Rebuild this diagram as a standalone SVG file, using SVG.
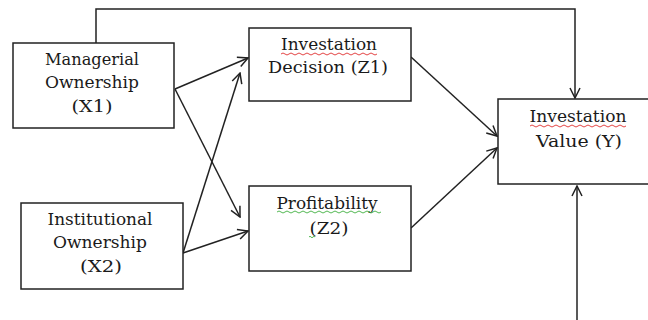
<svg xmlns="http://www.w3.org/2000/svg" width="648" height="320" viewBox="0 0 648 320">
<defs>
<style>
.box{fill:#fff;stroke:#222;stroke-width:1.5}
.t{font-family:'DejaVu Serif','Liberation Serif',serif;font-size:16px;fill:#1a1a1a;text-anchor:middle}
.c{fill:none;stroke:#222;stroke-width:1.5}
.sq{fill:none;stroke-width:0.9}
</style>
<marker id="ah" viewBox="0 0 12 12" refX="11" refY="6" markerWidth="12" markerHeight="12" markerUnits="userSpaceOnUse" orient="auto">
<path d="M1,1 L11,6 L1,11" fill="none" stroke="#222" stroke-width="1.5"/>
</marker>
</defs>
<rect width="648" height="320" fill="#fff"/>
<g id="connectors">
<path class="c" d="M96,43 V9 H575 V98" marker-end="url(#ah)"/>
<path class="c" d="M577,320 V186" marker-end="url(#ah)"/>
<path class="c" d="M175,89 L248,58" marker-end="url(#ah)"/>
<path class="c" d="M175,89 L240,217" marker-end="url(#ah)"/>
<path class="c" d="M183,253 L240,73" marker-end="url(#ah)"/>
<path class="c" d="M183,253 L248,231" marker-end="url(#ah)"/>
<path class="c" d="M411,57 L497,136" marker-end="url(#ah)"/>
<path class="c" d="M411,228 L497,148" marker-end="url(#ah)"/>
</g>
<g id="x1">
<rect class="box" x="13" y="43" width="161" height="85"/>
<text class="t" x="92" y="65" textLength="94" lengthAdjust="spacingAndGlyphs">Managerial</text>
<text class="t" x="92" y="88" textLength="94" lengthAdjust="spacingAndGlyphs">Ownership</text>
<text class="t" x="92" y="112" textLength="41" lengthAdjust="spacingAndGlyphs">(X1)</text>
</g>
<g id="x2">
<rect class="box" x="21" y="203" width="162" height="86"/>
<text class="t" x="100" y="225" textLength="105" lengthAdjust="spacingAndGlyphs">Institutional</text>
<text class="t" x="100" y="248" textLength="94" lengthAdjust="spacingAndGlyphs">Ownership</text>
<text class="t" x="101" y="272" textLength="42" lengthAdjust="spacingAndGlyphs">(X2)</text>
</g>
<g id="z1">
<rect class="box" x="249" y="28" width="162" height="73"/>
<text class="t" x="329" y="50" textLength="96" lengthAdjust="spacingAndGlyphs">Investation</text>
<text class="t" x="328" y="73" textLength="120" lengthAdjust="spacingAndGlyphs">Decision (Z1)</text>
<path class="sq" stroke="#e03030" d="M281,54 q2,-2 4,0 t4,0 t4,0 t4,0 t4,0 t4,0 t4,0 t4,0 t4,0 t4,0 t4,0 t4,0 t4,0 t4,0 t4,0 t4,0 t4,0 t4,0 t4,0 t4,0 t4,0 t4,0 t4,0 t4,0"/>
</g>
<g id="z2">
<rect class="box" x="249" y="186" width="162" height="85"/>
<text class="t" x="327" y="209" textLength="101" lengthAdjust="spacingAndGlyphs">Profitability</text>
<text class="t" x="329" y="234" textLength="39" lengthAdjust="spacingAndGlyphs">(Z2)</text>
<path class="sq" stroke="#40b040" d="M277,212 q2,-2 4,0 t4,0 t4,0 t4,0 t4,0 t4,0 t4,0 t4,0 t4,0 t4,0 t4,0 t4,0 t4,0 t4,0 t4,0 t4,0 t4,0 t4,0 t4,0 t4,0 t4,0 t4,0 t4,0 t4,0 t4,0 t4,0"/>
<path class="sq" stroke="#40b040" d="M309,237 q1,-1.5 2,0 t2,0 t2,0"/>
</g>
<g id="y">
<rect class="box" x="498" y="99" width="160" height="85"/>
<text class="t" x="578" y="122" textLength="97" lengthAdjust="spacingAndGlyphs">Investation</text>
<text class="t" x="579" y="147" textLength="86" lengthAdjust="spacingAndGlyphs">Value (Y)</text>
<path class="sq" stroke="#e03030" d="M530,126 q2,-2 4,0 t4,0 t4,0 t4,0 t4,0 t4,0 t4,0 t4,0 t4,0 t4,0 t4,0 t4,0 t4,0 t4,0 t4,0 t4,0 t4,0 t4,0 t4,0 t4,0 t4,0 t4,0 t4,0 t4,0"/>
</g>
</svg>
